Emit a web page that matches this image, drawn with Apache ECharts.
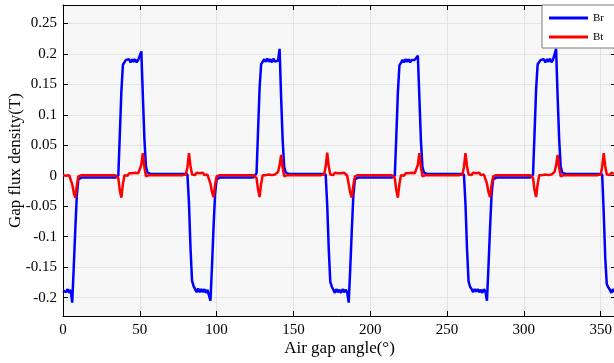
<!DOCTYPE html>
<html>
<head>
<meta charset="utf-8">
<script src="https://cdn.jsdelivr.net/npm/echarts@6/dist/echarts.min.js"></script>
<style>html,body{margin:0;padding:0;background:#fff}#c{width:614px;height:363px}</style>
</head>
<body>
<div id="c"></div>
<script>
// Sample angles (degrees)
const angles = [
0,1,2,3,4,5,6,7,8,9,10,11,12,13,14,15,16,17,18,19,20,21,22,23,24,25,26,27,28,29,
30,31,32,33,34,35,36,37,38,39,40,41,42,43,44,45,46,47,48,49,50,51,52,53,54,55,56,57,58,59,
60,61,62,63,64,65,66,67,68,69,70,71,72,73,74,75,76,77,78,79,80,81,82,83,84,85,86,87,88,89,
90,91,92,93,94,95,96,97,98,99,100,101,102,103,104,105,106,107,108,109,110,111,112,113,114,115,116,117,118,119,
120,121,122,123,124,125,126,127,128,129,130,131,132,133,134,135,136,137,138,139,140,141,142,143,144,145,146,147,148,149,
150,151,152,153,154,155,156,157,158,159,160,161,162,163,164,165,166,167,168,169,170,171,172,173,174,175,176,177,178,179,
180,181,182,183,184,185,186,187,188,189,190,191,192,193,194,195,196,197,198,199,200,201,202,203,204,205,206,207,208,209,
210,211,212,213,214,215,216,217,218,219,220,221,222,223,224,225,226,227,228,229,230,231,232,233,234,235,236,237,238,239,
240,241,242,243,244,245,246,247,248,249,250,251,252,253,254,255,256,257,258,259,260,261,262,263,264,265,266,267,268,269,
270,271,272,273,274,275,276,277,278,279,280,281,282,283,284,285,286,287,288,289,290,291,292,293,294,295,296,297,298,299,
300,301,302,303,304,305,306,307,308,309,310,311,312,313,314,315,316,317,318,319,320,321,322,323,324,325,326,327,328,329,
330,331,332,333,334,335,336,337,338,339,340,341,342,343,344,345,346,347,348,349,350,351,352,353,354,355,356,357,358,359
];

// Radial flux density Br (T)
const br = [
-0.188,-0.186,-0.191,-0.186,-0.192,-0.187,-0.208,-0.150,-0.088,-0.032,
-0.006,-0.004,-0.003,-0.003,-0.003,-0.003,-0.003,-0.003,-0.003,-0.003,
-0.003,-0.003,-0.003,-0.003,-0.003,-0.003,-0.003,-0.003,-0.003,-0.003,
-0.003,-0.003,-0.003,-0.003,-0.003,-0.003,0.000,0.068,0.138,0.182,
0.185,0.190,0.187,0.191,0.186,0.191,0.187,0.191,0.186,0.190,
0.188,0.204,0.130,0.060,0.015,0.005,0.004,0.003,0.003,0.003,
0.003,0.003,0.003,0.003,0.003,0.003,0.003,0.003,0.003,0.003,
0.003,0.003,0.003,0.003,0.003,0.003,0.003,0.003,0.003,0.003,
0.003,0.002,-0.045,-0.118,-0.172,-0.181,-0.186,-0.191,-0.185,-0.191,

-0.186,-0.191,-0.186,-0.192,-0.187,-0.190,-0.205,-0.148,-0.085,-0.030,
-0.006,-0.004,-0.003,-0.003,-0.003,-0.003,-0.003,-0.003,-0.003,-0.003,
-0.003,-0.003,-0.003,-0.003,-0.003,-0.003,-0.003,-0.003,-0.003,-0.003,
-0.003,-0.003,-0.003,-0.003,-0.003,-0.003,0.004,0.075,0.145,0.183,
0.186,0.191,0.187,0.192,0.187,0.191,0.186,0.192,0.187,0.190,
0.189,0.208,0.128,0.058,0.014,0.005,0.004,0.003,0.003,0.003,
0.003,0.003,0.003,0.003,0.003,0.003,0.003,0.003,0.003,0.003,
0.003,0.003,0.003,0.003,0.003,0.003,0.003,0.003,0.003,0.003,
0.003,0.002,-0.048,-0.120,-0.174,-0.182,-0.187,-0.192,-0.186,-0.191,

-0.187,-0.192,-0.186,-0.191,-0.187,-0.191,-0.208,-0.152,-0.090,-0.033,
-0.006,-0.004,-0.003,-0.003,-0.003,-0.003,-0.003,-0.003,-0.003,-0.003,
-0.003,-0.003,-0.003,-0.003,-0.003,-0.003,-0.003,-0.003,-0.003,-0.003,
-0.003,-0.003,-0.003,-0.003,-0.003,-0.003,0.000,0.066,0.136,0.181,
0.185,0.190,0.186,0.191,0.187,0.191,0.186,0.190,0.187,0.190,
0.188,0.197,0.128,0.058,0.014,0.005,0.004,0.003,0.003,0.003,
0.003,0.003,0.003,0.003,0.003,0.003,0.003,0.003,0.003,0.003,
0.003,0.003,0.003,0.003,0.003,0.003,0.003,0.003,0.003,0.003,
0.003,0.002,-0.046,-0.119,-0.173,-0.182,-0.186,-0.191,-0.186,-0.190,

-0.186,-0.191,-0.187,-0.192,-0.186,-0.190,-0.205,-0.148,-0.086,-0.031,
-0.006,-0.004,-0.003,-0.003,-0.003,-0.003,-0.003,-0.003,-0.003,-0.003,
-0.003,-0.003,-0.003,-0.003,-0.003,-0.003,-0.003,-0.003,-0.003,-0.003,
-0.003,-0.003,-0.003,-0.003,-0.003,-0.003,0.002,0.072,0.142,0.183,
0.186,0.190,0.187,0.191,0.186,0.191,0.187,0.192,0.186,0.190,
0.189,0.208,0.130,0.060,0.015,0.005,0.004,0.003,0.003,0.003,
0.003,0.003,0.003,0.003,0.003,0.003,0.003,0.003,0.003,0.003,
0.003,0.003,0.003,0.003,0.003,0.003,0.003,0.003,0.003,0.003,
0.003,0.002,-0.060,-0.135,-0.178,-0.183,-0.187,-0.192,-0.186,-0.191
];

// Tangential flux density Bt (T)
const bt = [
0.001,0.003,0.000,0.003,0.001,-0.002,-0.014,-0.028,-0.036,-0.016,
-0.001,0.001,0.001,0.001,0.001,0.001,0.001,0.001,0.001,0.001,
0.001,0.001,0.001,0.001,0.001,0.001,0.001,0.001,0.001,0.001,
0.001,0.001,0.001,0.001,0.001,0.001,-0.004,-0.024,-0.036,-0.014,
0.001,0.003,0.000,0.004,0.001,0.004,0.002,0.005,0.002,0.004,
0.006,0.018,0.037,0.014,-0.001,0.000,0.001,0.001,0.001,0.001,
0.001,0.001,0.001,0.001,0.001,0.001,0.001,0.001,0.001,0.001,
0.001,0.001,0.001,0.001,0.001,0.001,0.001,0.001,0.001,0.001,
0.002,0.014,0.037,0.016,0.002,0.004,0.001,0.005,0.002,0.004,

0.002,0.005,0.001,0.004,0.002,0.000,-0.013,-0.027,-0.035,-0.015,
-0.001,0.001,0.001,0.001,0.001,0.001,0.001,0.001,0.001,0.001,
0.001,0.001,0.001,0.001,0.001,0.001,0.001,0.001,0.001,0.001,
0.001,0.001,0.001,0.001,0.001,0.001,-0.004,-0.023,-0.035,-0.013,
0.001,0.004,0.001,0.004,0.002,0.005,0.001,0.004,0.002,0.004,
0.006,0.017,0.034,0.013,-0.001,0.000,0.001,0.001,0.001,0.001,
0.001,0.001,0.001,0.001,0.001,0.001,0.001,0.001,0.001,0.001,
0.001,0.001,0.001,0.001,0.001,0.001,0.001,0.001,0.001,0.001,
0.002,0.015,0.038,0.015,0.002,0.004,0.001,0.005,0.002,0.004,

0.002,0.004,0.001,0.005,0.002,0.000,-0.014,-0.028,-0.036,-0.016,
-0.001,0.001,0.001,0.001,0.001,0.001,0.001,0.001,0.001,0.001,
0.001,0.001,0.001,0.001,0.001,0.001,0.001,0.001,0.001,0.001,
0.001,0.001,0.001,0.001,0.001,0.001,-0.004,-0.024,-0.036,-0.014,
0.001,0.003,0.000,0.004,0.001,0.004,0.002,0.005,0.002,0.004,
0.006,0.018,0.037,0.014,-0.001,0.000,0.001,0.001,0.001,0.001,
0.001,0.001,0.001,0.001,0.001,0.001,0.001,0.001,0.001,0.001,
0.001,0.001,0.001,0.001,0.001,0.001,0.001,0.001,0.001,0.001,
0.002,0.014,0.037,0.016,0.002,0.004,0.001,0.005,0.002,0.004,

0.002,0.005,0.001,0.004,0.002,0.000,-0.013,-0.027,-0.035,-0.015,
-0.001,0.001,0.001,0.001,0.001,0.001,0.001,0.001,0.001,0.001,
0.001,0.001,0.001,0.001,0.001,0.001,0.001,0.001,0.001,0.001,
0.001,0.001,0.001,0.001,0.001,0.001,-0.004,-0.024,-0.035,-0.014,
0.001,0.004,0.001,0.004,0.002,0.005,0.001,0.004,0.002,0.004,
0.006,0.017,0.034,0.013,-0.001,0.000,0.001,0.001,0.001,0.001,
0.001,0.001,0.001,0.001,0.001,0.001,0.001,0.001,0.001,0.001,
0.001,0.001,0.001,0.001,0.001,0.001,0.001,0.001,0.001,0.001,
0.002,0.014,0.037,0.016,0.002,0.004,0.001,0.005,0.002,0.003
];

const xTicks = [0, 50, 100, 150, 200, 250, 300, 350];
const yTicks = [-0.2, -0.15, -0.1, -0.05, 0, 0.05, 0.1, 0.15, 0.2, 0.25];
const yTickLabels = ['-0.2', '-0.15', '-0.1', '-0.05', '0', '0.05', '0.1', '0.15', '0.2', '0.25'];
const seriesNames = ['Br', 'Bt'];

const FONT = 'Liberation Serif';
const brData = angles.map((a, i) => [a, br[i]]);
const btData = angles.map((a, i) => [a, bt[i]]);

function yLabel(v) {
  for (let i = 0; i < yTicks.length; i++) if (Math.abs(yTicks[i] - v) < 1e-9) return yTickLabels[i];
  return '';
}

const chart = echarts.init(document.getElementById('c'), null, {renderer: 'canvas'});
chart.setOption({
  animation: false,
  backgroundColor: '#ffffff',
  grid: {left: 63, top: 5, right: -2, bottom: 47, outerBoundsMode: 'none', containLabel: false,
         show: true, backgroundColor: '#f7f7f7', borderColor: '#000', borderWidth: 0},
  legend: {
    data: seriesNames, orient: 'vertical', left: 542, top: 5,
    icon: 'rect', itemWidth: 39, itemHeight: 3, itemGap: 7,
    padding: [7, 30, 5, 7],
    backgroundColor: '#ffffff', borderColor: '#7a7a7a', borderWidth: 1,
    textStyle: {fontFamily: FONT, fontSize: 11, color: '#000', lineHeight: 12}
  },
  xAxis: [{
    type: 'value', min: 0, max: 360, position: 'bottom',
    axisLine: {show: true, onZero: false, lineStyle: {color: '#000', width: 1}},
    axisTick: {show: true, inside: true, length: 5, customValues: xTicks, lineStyle: {color: '#000'}},
    axisLabel: {customValues: xTicks, fontFamily: FONT, fontSize: 15, color: '#000', margin: 7},
    splitLine: {show: true, lineStyle: {color: '#e3e3e3', width: 1}},
    name: 'Air gap angle(°)', nameLocation: 'middle', nameGap: 24, nameMoveOverlap: false,
    nameTextStyle: {fontFamily: FONT, fontSize: 17, color: '#000'}
  }, {
    type: 'value', min: 0, max: 360, position: 'top',
    axisLine: {show: true, onZero: false, lineStyle: {color: '#000', width: 1}},
    axisTick: {show: true, inside: true, length: 5, customValues: xTicks, lineStyle: {color: '#000'}},
    axisLabel: {show: false}, splitLine: {show: false}
  }],
  yAxis: [{
    type: 'value', min: -0.23, max: 0.28, position: 'left',
    axisLine: {show: true, onZero: false, lineStyle: {color: '#000', width: 1}},
    axisTick: {show: true, inside: true, length: 5, customValues: yTicks, lineStyle: {color: '#000'}},
    axisLabel: {customValues: yTicks, formatter: yLabel, fontFamily: FONT, fontSize: 15, color: '#000', margin: 6},
    splitLine: {show: true, lineStyle: {color: '#e3e3e3', width: 1}},
    name: 'Gap flux density(T)', nameLocation: 'middle', nameGap: 39, nameMoveOverlap: false,
    nameTextStyle: {fontFamily: FONT, fontSize: 17, color: '#000'}
  }, {
    type: 'value', min: -0.23, max: 0.28, position: 'right',
    axisLine: {show: true, onZero: false, lineStyle: {color: '#000', width: 1}},
    axisTick: {show: true, inside: true, length: 5, customValues: yTicks, lineStyle: {color: '#000'}},
    axisLabel: {show: false}, splitLine: {show: false}
  }],
  series: [{
    name: seriesNames[0], type: 'line', data: brData, showSymbol: false, symbol: 'none',
    lineStyle: {color: '#0000ff', width: 2.5}, itemStyle: {color: '#0000ff'}, z: 2
  }, {
    name: seriesNames[1], type: 'line', data: btData, showSymbol: false, symbol: 'none',
    lineStyle: {color: '#ff0000', width: 2.5}, itemStyle: {color: '#ff0000'}, z: 3
  }]
});
</script>
</body>
</html>
